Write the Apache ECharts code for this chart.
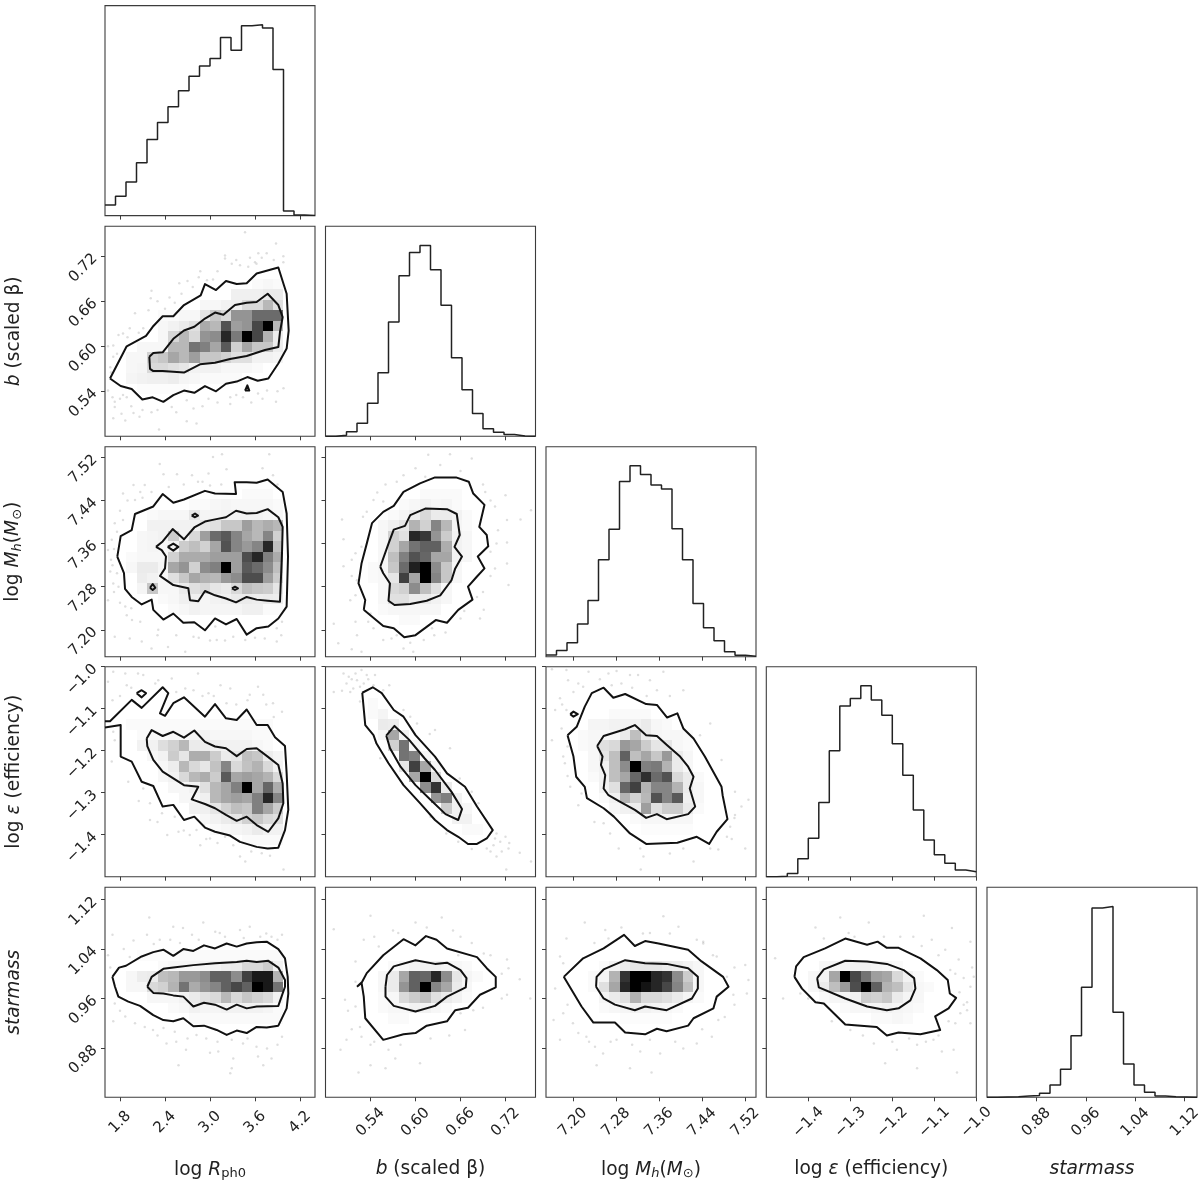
<!DOCTYPE html>
<html><head><meta charset="utf-8"><style>html,body{margin:0;padding:0;background:#fff}#c{width:1200px;height:1186px}</style>
<script src="https://cdn.jsdelivr.net/npm/echarts@6/dist/echarts.min.js"></script></head><body><div id="c"></div>
<script>
// parameter ranges and ticks
const rangeR=[1.6,4.4], rangeB=[0.48,0.76], rangeM=[7.15,7.54], rangeE=[-1.5,-1.0], rangeS=[0.8,1.14];
const ticksR=[1.8,2.4,3.0,3.6,4.2], ticksB=[0.54,0.60,0.66,0.72], ticksM=[7.20,7.28,7.36,7.44,7.52], ticksE=[-1.4,-1.3,-1.2,-1.1,-1.0], ticksS=[0.88,0.96,1.04,1.12];
const decimals=[1,2,2,1,2];
// 1-D histograms (percent of the tallest bin)
const histR=[5.6,10.1,17.6,27.7,39.9,48.8,57,65.4,73,78.3,82.3,93.3,86.6,99.4,100,98.3,76.5,2.4,0.3,0];
const histB=[0,0.5,2.4,6.8,17.3,33.3,59.9,84.1,96.3,100,87.3,68.6,41.2,24.4,11.9,4,2.1,1,0.2,0];
const histM=[0.9,3.3,7.3,17.1,29.5,50.8,66.7,91.8,100,95.5,89.9,87.8,67,50.8,27.9,15.2,8.4,2.6,0.7,0.3];
const histE=[0,0.2,1.7,9.4,20.1,38.9,66,89.4,93.4,100,92.5,84.6,69.6,53.2,34.9,19.2,11.5,7,3.5,2.6];
const histS=[0,0.2,0.3,0.7,0.9,2.1,6.5,14.7,32.3,57.6,99.1,100,44.5,17.5,6.5,2.6,0.7,0.3,0.2,0];
// 2-D densities: each row is [binRowFromTop, firstBinCol, density...]
const cellsBR=[[5,14,2,3,2],[6,12,6,6,6,8,8],[7,9,3,3,5,6,15,15,28,12],[8,5,2,2,3,3,10,22,15,42,42,58,58,58],[9,5,3,5,8,12,33,28,68,38,42,72,100,28],[10,5,3,16,28,15,42,45,85,52,100,72,30,7],[11,3,3,3,3,28,28,55,50,35,65,18,35,22,22,7],[12,2,3,3,18,22,35,28,38,22,22,18,12,12,5,5,4],[13,2,3,4,15,15,12,10,5,5,5,3,3,3,2],[14,2,4,5,6,6,7,4,3,2,2,2,2],[15,3,1,1,1,1,1]];
const cellsMR=[[4,13,2,2,2],[5,8,2,2,3,4,3,3,3,3,2],[6,4,2,3,3,3,10,4,4,5,5,5,5,4,3],[7,4,5,5,5,5,5,10,12,22,22,38,28,32,28],[8,3,3,4,5,20,5,15,38,58,65,48,35,28,48,18],[9,3,3,4,3,5,20,25,18,35,68,48,40,48,85,25],[10,2,2,3,3,3,18,33,33,33,38,38,38,70,85,50,33],[11,2,3,8,8,4,35,42,18,45,50,100,38,65,58,45,25],[12,3,7,5,3,12,22,35,30,28,40,45,70,70,38,20],[13,3,4,22,3,3,8,12,15,10,8,15,25,22,20,10],[14,5,2,3,6,6,4,5,6,8,8,7,8,7],[15,6,2,3,5,4,4,4,4,6,6,2,2]];
const cellsER=[[5,2,2,2,2,2,2,2,2,2,2,2,2,2,2,2],[6,3,2,2,2,3,3,4,5,3,3,3,3,2,2],[7,3,5,5,13,18,28,8,7,6,5,5,5,3,2],[8,4,3,5,20,10,32,32,20,8,10,25,22,7,4],[9,5,3,7,28,15,10,24,48,15,24,30,15,5],[10,5,3,5,15,28,32,20,65,35,38,35,30,15],[11,6,3,3,5,12,28,35,50,100,35,60,32],[12,7,3,3,6,28,35,38,35,50,85,48],[13,8,5,6,10,18,25,22,50,35,20],[14,9,3,5,8,10,18,22,15,12],[15,10,2,3,4,5,8,5,5],[16,13,2,2,2,2]];
const cellsSR=[[6,3,1,1,1,1,2,2,2,2,2,2,2,2,2,2],[7,5,2,3,3,3,4,5,7,8,15,15,20,5],[8,2,3,7,8,25,28,40,40,45,62,62,45,75,90,90,30],[9,2,3,3,15,18,30,55,33,42,48,62,72,62,100,90,55],[10,4,3,3,3,5,8,12,15,28,15,22,18,15,5],[11,6,2,3,5,4,4,5,5,5,5,4,2],[12,8,2,2,2,2,2,2,2,2,2]];
const cellsMB=[[4,9,2,2,2,2],[5,7,2,3,5,3,4,2],[6,6,2,4,7,15,8,8,5,2],[7,5,3,6,10,30,18,48,28,4,2],[8,5,3,18,12,85,78,42,20,5,3],[9,5,3,18,35,55,62,62,32,5,3],[10,5,3,25,50,68,60,35,35,5,3],[11,4,2,3,22,58,88,100,45,22,3],[12,4,2,3,10,75,35,100,48,22,3],[13,5,3,15,18,45,25,12,3],[14,5,3,12,12,8,8,5,3],[15,5,2,3,3,3,3,3],[16,7,2,2]];
const cellsEB=[[3,4,2],[4,4,2,4],[5,5,8,7],[6,5,3,35,6],[7,6,18,55,4],[8,7,55,50,3],[9,7,10,75,35,3],[10,8,35,100,15],[11,9,45,80,8],[12,10,42,50,5],[13,11,20,5,3],[14,12,5,5],[15,13,2,2]];
const cellsEM=[[4,6,2,2,2,2],[5,4,4,4,5,5,5,8,3,2],[6,3,2,3,3,3,8,25,8,4,3,3,2],[7,3,2,3,12,15,40,35,20,10,10,3,2],[8,4,3,10,25,62,25,35,22,40,8,3],[9,4,3,5,25,45,100,50,52,30,8,3],[10,4,2,5,25,35,60,82,58,68,15,8,2],[11,5,5,12,60,75,30,48,48,30,8,3],[12,5,2,5,30,18,28,68,48,65,6,3],[13,6,3,5,7,38,12,20,20,8,2],[14,8,2,3,3,3,3,3],[15,9,1,1,1,1,1]];
const cellsSB=[[7,6,2,3,5,5,5,4,3,2],[8,5,3,8,35,62,60,85,45,10,4,2],[9,5,3,8,42,62,100,48,35,8,3],[10,5,2,3,15,20,25,12,8,5,2],[11,5,2,3,3,5,5,3,2],[12,6,2,2]];
const cellsSM=[[7,5,2,5,8,10,10,10,8,7,5,3],[8,4,2,4,30,80,100,100,85,80,45,20,3],[9,4,2,12,35,85,100,92,85,72,48,25,3],[10,5,4,8,12,30,15,15,12,8,4,2],[11,5,2,3,4,5,5,4,3,2],[12,7,1,1,1,1,1]];
const cellsSE=[[7,5,3,4,5,5,5,4,3,2],[8,4,3,5,35,100,72,55,38,35,15,5,2],[9,4,3,8,25,40,70,100,62,30,25,10,3,2],[10,5,2,3,4,6,20,18,22,8,4,3],[11,7,2,3,3,4,5,4,3,2],[12,10,2,2,3,2]];
// contours
const outerBR=[[1.667,.557],[1.809,.547],[1.956,.543],[2.098,.529],[2.236,.532],[2.378,.526],[2.511,.535],[2.653,.541],[2.791,.538],[2.933,.547],[3.08,.54],[3.213,.55],[3.356,.553],[3.498,.559],[3.636,.554],[3.778,.557],[3.911,.577],[4.022,.597],[4.049,.621],[4.022,.67],[3.911,.705],[3.622,.697],[3.489,.684],[3.356,.683],[3.213,.687],[3.08,.675],[2.933,.683],[2.876,.668],[2.653,.655],[2.511,.64],[2.369,.64],[2.236,.626],[2.147,.614],[1.889,.6],[1.667,.557]];
const innerBR=[[2.191,.586],[2.2,.57],[2.244,.567],[2.369,.567],[2.653,.565],[2.867,.576],[3.067,.578],[3.267,.583],[3.489,.587],[3.733,.595],[3.911,.599],[3.933,.619],[3.969,.639],[3.911,.655],[3.769,.67],[3.622,.659],[3.489,.658],[3.333,.655],[3.178,.642],[3.067,.645],[2.933,.637],[2.791,.626],[2.653,.621],[2.511,.61],[2.369,.592],[2.244,.591],[2.191,.586]];
const isleBR1=[[3.467,.541],[3.498,.548],[3.524,.541],[3.467,.541]];
const outerMR=[[1.764,7.336],[1.809,7.374],[1.956,7.385],[2.0,7.415],[2.244,7.429],[2.369,7.452],[2.511,7.436],[2.653,7.442],[2.933,7.458],[3.067,7.453],[3.347,7.452],[3.329,7.474],[3.489,7.474],[3.622,7.473],[3.769,7.479],[3.969,7.456],[4.022,7.416],[4.04,7.336],[4.022,7.243],[3.911,7.221],[3.778,7.206],[3.622,7.203],[3.489,7.191],[3.356,7.22],[3.213,7.21],[3.067,7.221],[2.933,7.199],[2.791,7.214],[2.644,7.213],[2.511,7.23],[2.378,7.219],[2.244,7.237],[2.222,7.256],[2.089,7.247],[1.956,7.261],[1.867,7.276],[1.853,7.305],[1.764,7.336]];
const innerMR=[[2.28,7.354],[2.369,7.364],[2.502,7.387],[2.653,7.368],[2.791,7.39],[2.933,7.401],[3.067,7.405],[3.213,7.409],[3.347,7.421],[3.489,7.416],[3.622,7.417],[3.769,7.424],[3.911,7.409],[3.969,7.391],[3.96,7.342],[3.933,7.252],[3.769,7.254],[3.622,7.256],[3.489,7.261],[3.347,7.251],[3.213,7.258],[3.067,7.264],[2.933,7.272],[2.844,7.253],[2.733,7.255],[2.711,7.277],[2.511,7.283],[2.333,7.3],[2.4,7.314],[2.413,7.336],[2.356,7.348],[2.28,7.354]];
const isleMR1=[[2.436,7.354],[2.511,7.36],[2.578,7.354],[2.511,7.347],[2.436,7.354]];
const isleMR2=[[2.2,7.278],[2.236,7.285],[2.271,7.278],[2.236,7.274],[2.2,7.278]];
const isleMR3=[[2.756,7.412],[2.8,7.416],[2.84,7.412],[2.8,7.409],[2.756,7.412]];
const isleMR4=[[3.293,7.277],[3.333,7.28],[3.373,7.277],[3.333,7.274],[3.293,7.277]];
const outerER=[[1.6,-1.13],[1.667,-1.13],[1.956,-1.079],[2.089,-1.098],[2.369,-1.049],[2.444,-1.063],[2.333,-1.111],[2.4,-1.117],[2.511,-1.087],[2.653,-1.073],[2.933,-1.119],[3.067,-1.089],[3.213,-1.123],[3.356,-1.127],[3.489,-1.102],[3.622,-1.139],[3.769,-1.139],[3.867,-1.168],[4.0,-1.189],[4.022,-1.254],[4.044,-1.341],[4.0,-1.389],[3.911,-1.431],[3.769,-1.433],[3.622,-1.429],[3.4,-1.417],[3.267,-1.402],[3.067,-1.393],[2.933,-1.383],[2.791,-1.357],[2.653,-1.365],[2.511,-1.329],[2.369,-1.333],[2.244,-1.284],[2.089,-1.274],[1.956,-1.226],[1.809,-1.214],[1.809,-1.139],[1.6,-1.145]];
const innerER=[[2.156,-1.171],[2.222,-1.151],[2.369,-1.165],[2.511,-1.155],[2.653,-1.169],[2.791,-1.152],[2.933,-1.179],[3.067,-1.19],[3.213,-1.194],[3.356,-1.213],[3.489,-1.196],[3.622,-1.194],[3.769,-1.214],[3.911,-1.234],[3.969,-1.278],[3.978,-1.325],[3.911,-1.361],[3.778,-1.393],[3.622,-1.377],[3.489,-1.357],[3.356,-1.367],[3.213,-1.353],[3.067,-1.337],[2.933,-1.327],[2.756,-1.316],[2.844,-1.286],[2.653,-1.282],[2.511,-1.266],[2.369,-1.25],[2.244,-1.222],[2.164,-1.189],[2.156,-1.171]];
const isleER1=[[2.022,-1.063],[2.089,-1.056],[2.147,-1.063],[2.089,-1.073],[2.022,-1.063]];
const outerSR=[[1.698,.995],[1.787,1.01],[1.88,1.013],[2.089,1.028],[2.244,1.035],[2.378,1.039],[2.511,1.029],[2.644,1.04],[2.778,1.037],[2.92,1.046],[3.067,1.041],[3.222,1.049],[3.356,1.044],[3.489,1.049],[3.622,1.051],[3.756,1.052],[3.911,1.04],[4.0,1.025],[4.036,.995],[4.044,.968],[4.022,.944],[3.911,.916],[3.756,.913],[3.622,.914],[3.489,.904],[3.356,.908],[3.222,.901],[3.089,.909],[2.92,.916],[2.778,.915],[2.644,.928],[2.511,.923],[2.378,.925],[2.244,.933],[2.067,.948],[1.911,.955],[1.778,.963],[1.733,.979],[1.698,.995]];
const innerSR=[[2.164,.979],[2.222,.995],[2.378,1.008],[2.511,1.01],[2.778,1.014],[3.067,1.017],[3.356,1.019],[3.489,1.021],[3.622,1.019],[3.778,1.021],[3.911,1.01],[4.0,.99],[4.0,.979],[3.911,.948],[3.622,.947],[3.489,.944],[3.356,.95],[3.222,.942],[3.067,.95],[2.92,.953],[2.778,.947],[2.644,.963],[2.511,.965],[2.378,.968],[2.244,.969],[2.164,.979]];
const outerMB=[[.531,7.237],[.533,7.255],[.524,7.286],[.528,7.323],[.535,7.36],[.542,7.398],[.557,7.419],[.571,7.43],[.584,7.456],[.606,7.472],[.626,7.483],[.654,7.483],[.671,7.475],[.677,7.453],[.692,7.432],[.685,7.391],[.695,7.376],[.697,7.355],[.683,7.336],[.692,7.314],[.682,7.299],[.67,7.28],[.676,7.256],[.657,7.237],[.642,7.213],[.627,7.218],[.6,7.19],[.585,7.186],[.571,7.203],[.557,7.207],[.531,7.237]];
const innerMB=[[.553,7.317],[.564,7.36],[.571,7.386],[.586,7.393],[.593,7.413],[.613,7.425],[.642,7.424],[.655,7.415],[.659,7.376],[.652,7.354],[.662,7.336],[.653,7.314],[.648,7.292],[.633,7.264],[.615,7.254],[.593,7.248],[.572,7.246],[.564,7.254],[.566,7.286],[.557,7.305],[.553,7.317]];
const outerEB=[[.529,-1.062],[.543,-1.049],[.555,-1.063],[.571,-1.103],[.584,-1.119],[.6,-1.163],[.626,-1.214],[.642,-1.254],[.666,-1.286],[.682,-1.333],[.703,-1.389],[.695,-1.409],[.682,-1.422],[.67,-1.422],[.657,-1.405],[.642,-1.389],[.626,-1.365],[.606,-1.325],[.584,-1.282],[.564,-1.23],[.548,-1.183],[.544,-1.163],[.533,-1.139],[.529,-1.062]];
const innerEB=[[.561,-1.164],[.572,-1.141],[.591,-1.173],[.612,-1.218],[.626,-1.246],[.648,-1.298],[.662,-1.339],[.657,-1.365],[.64,-1.351],[.62,-1.317],[.6,-1.282],[.58,-1.238],[.566,-1.194],[.561,-1.164]];
const outerEM=[[7.19,-1.163],[7.207,-1.143],[7.222,-1.095],[7.235,-1.063],[7.257,-1.05],[7.275,-1.074],[7.297,-1.065],[7.336,-1.089],[7.356,-1.091],[7.375,-1.121],[7.394,-1.111],[7.405,-1.147],[7.424,-1.171],[7.445,-1.214],[7.476,-1.286],[7.478,-1.306],[7.487,-1.363],[7.467,-1.393],[7.453,-1.422],[7.43,-1.405],[7.394,-1.419],[7.336,-1.422],[7.306,-1.397],[7.276,-1.357],[7.257,-1.337],[7.226,-1.313],[7.222,-1.286],[7.206,-1.262],[7.201,-1.214],[7.19,-1.163]];
const innerEM=[[7.245,-1.189],[7.257,-1.165],[7.297,-1.149],[7.315,-1.139],[7.336,-1.163],[7.356,-1.165],[7.375,-1.187],[7.399,-1.214],[7.414,-1.238],[7.424,-1.262],[7.417,-1.29],[7.427,-1.333],[7.414,-1.351],[7.374,-1.363],[7.356,-1.351],[7.336,-1.36],[7.315,-1.341],[7.287,-1.321],[7.266,-1.306],[7.257,-1.29],[7.26,-1.258],[7.252,-1.234],[7.255,-1.214],[7.245,-1.189]];
const isleEM1=[[7.195,-1.113],[7.201,-1.107],[7.209,-1.113],[7.201,-1.119],[7.195,-1.113]];
const outerSB=[[.522,.979],[.528,.986],[.531,.963],[.533,.928],[.557,.893],[.584,.902],[.6,.904],[.615,.916],[.642,.923],[.653,.941],[.67,.945],[.686,.966],[.707,.978],[.707,.995],[.695,1.009],[.682,1.027],[.642,1.041],[.628,1.055],[.614,1.061],[.6,1.046],[.584,1.056],[.557,1.03],[.535,1.001],[.528,.985],[.522,.979]];
const innerSB=[[.56,.979],[.562,.998],[.571,1.012],[.6,1.022],[.626,1.016],[.642,1.018],[.66,1.006],[.668,.993],[.667,.978],[.642,.963],[.626,.948],[.6,.939],[.571,.948],[.56,.963],[.56,.979]];
const outerSM=[[7.183,.995],[7.219,1.025],[7.257,1.041],[7.295,1.063],[7.315,1.045],[7.334,1.053],[7.359,1.049],[7.414,1.039],[7.439,1.02],[7.479,.995],[7.489,.979],[7.467,.963],[7.461,.944],[7.424,.928],[7.414,.916],[7.374,.907],[7.356,.911],[7.334,.902],[7.297,.905],[7.278,.921],[7.238,.921],[7.216,.947],[7.183,.995]];
const innerSM=[[7.243,.979],[7.244,.995],[7.257,1.007],[7.297,1.022],[7.334,1.017],[7.374,1.016],[7.414,1.009],[7.432,.995],[7.432,.976],[7.421,.96],[7.374,.941],[7.334,.947],[7.315,.941],[7.278,.95],[7.257,.96],[7.243,.979]];
const outerSE=[[-1.433,.995],[-1.429,1.012],[-1.411,1.027],[-1.36,1.041],[-1.312,1.057],[-1.26,1.047],[-1.235,1.052],[-1.213,1.042],[-1.185,1.042],[-1.133,1.025],[-1.094,1.006],[-1.068,.99],[-1.063,.968],[-1.048,.961],[-1.066,.944],[-1.098,.931],[-1.086,.909],[-1.133,.902],[-1.185,.905],[-1.213,.9],[-1.237,.914],[-1.312,.918],[-1.363,.952],[-1.383,.954],[-1.415,.976],[-1.433,.995]];
const innerSE=[[-1.379,.993],[-1.363,1.007],[-1.312,1.021],[-1.26,1.02],[-1.213,1.016],[-1.173,1.006],[-1.148,.993],[-1.145,.976],[-1.157,.957],[-1.185,.944],[-1.213,.941],[-1.26,.947],[-1.312,.96],[-1.375,.978],[-1.379,.993]];
// individual samples outside the contours
const dotsBR=[[3.467,.752],[3.88,.737],[3.2,.721],[3.2,.717],[3.533,.718],[3.644,.724],[3.756,.724],[3.69,.718],[3.978,.72],[3.978,.712],[3.29,.71],[3.4,.708],[3.51,.706],[3.62,.71],[2.87,.7],[2.96,.688],[3.04,.689],[2.7,.687],[2.59,.684],[2.77,.679],[2.22,.674],[2.21,.664],[2.4,.65],[2.53,.658],[2.18,.648],[2,.644],[1.93,.624],[2.11,.624],[1.78,.615],[1.84,.617],[1.71,.601],[1.64,.6],[1.71,.586],[1.67,.572],[1.64,.541],[1.84,.535],[1.89,.532],[1.73,.526],[1.73,.519],[1.82,.51],[1.98,.511],[1.71,.504],[1.87,.501],[2.06,.506],[2.22,.512],[2.32,.489],[2.69,.5],[2.82,.497],[2.49,.519],[2.69,.528],[2.78,.517],[2.98,.53],[3.27,.532],[3.27,.523],[3.44,.532],[3.64,.537],[3.76,.541],[3.98,.544],[3.88,.526],[2.3,.66],[2.46,.665],[2.62,.67],[2.85,.692],[3.1,.7],[3.35,.715],[3.6,.712],[3.85,.715],[1.9,.612],[2.05,.618],[1.76,.59],[1.68,.565],[1.7,.532],[1.8,.53],[1.95,.52],[2.1,.515],[2.3,.515],[2.55,.512],[2.9,.52],[3.1,.525],[3.35,.535],[3.55,.525],[3.7,.53],[3.9,.54]];
const dotsMR=[[3.16,7.526],[3.04,7.521],[3.79,7.526],[2.33,7.508],[2.38,7.489],[2.56,7.489],[2.76,7.487],[2.98,7.49],[3.22,7.498],[2.84,7.475],[3.84,7.487],[1.98,7.469],[2.13,7.469],[2.07,7.456],[1.84,7.453],[2,7.441],[2.22,7.456],[1.8,7.421],[1.84,7.404],[1.73,7.398],[1.76,7.382],[1.69,7.367],[1.64,7.348],[1.67,7.308],[1.76,7.305],[1.71,7.286],[1.78,7.28],[1.64,7.255],[1.87,7.243],[1.89,7.227],[1.96,7.218],[2.07,7.215],[1.73,7.187],[1.93,7.184],[2.09,7.178],[2.22,7.165],[2.31,7.2],[2.44,7.168],[2.67,7.159],[2.78,7.187],[3.07,7.206],[3.09,7.181],[3.31,7.187],[3.47,7.181],[3.73,7.184],[3.89,7.203],[3.89,7.178],[3.96,7.215],[2.65,7.47],[2.9,7.475],[3.0,7.468],[2.45,7.465],[3.15,7.47],[3.7,7.5],[3.9,7.47],[1.9,7.44],[2.1,7.445],[1.68,7.33],[1.72,7.35],[1.7,7.32],[1.72,7.27],[1.8,7.25],[1.95,7.24],[2.3,7.19],[2.55,7.19],[2.85,7.185],[3.0,7.18],[3.2,7.18],[3.6,7.185],[3.95,7.19]];
const dotsER=[[1.71,-1.012],[1.87,-1.016],[2.04,-1.016],[1.64,-1.036],[2.11,-1.02],[2.31,-1.032],[2.49,-1.028],[2.84,-1.016],[1.89,-1.044],[2.27,-1.04],[2.67,-1.052],[2.78,-1.056],[2.98,-1.063],[3.14,-1.044],[3.27,-1.052],[3.53,-1.067],[3.64,-1.048],[3.71,-1.067],[3.84,-1.087],[3.96,-1.107],[3.22,-1.087],[1.71,-1.155],[1.73,-1.175],[1.69,-1.226],[1.91,-1.274],[2.11,-1.29],[2.2,-1.325],[2.36,-1.349],[2.43,-1.401],[2.53,-1.357],[2.58,-1.393],[2.73,-1.401],[2.82,-1.389],[2.87,-1.425],[3,-1.409],[3.2,-1.405],[3.31,-1.425],[3.4,-1.452],[3.47,-1.464],[3.69,-1.444],[3.98,-1.483],[2.93,-1.373],[2.2,-1.365],[2.55,-1.06],[2.9,-1.07],[3.05,-1.07],[3.35,-1.09],[3.5,-1.08],[3.75,-1.09],[3.85,-1.12],[1.8,-1.07],[1.95,-1.05],[1.7,-1.08],[2.05,-1.32],[2.3,-1.37],[2.65,-1.39],[2.95,-1.41],[3.1,-1.42],[3.55,-1.44],[3.8,-1.45]];
const dotsSR=[[2.19,1.091],[2.91,1.083],[2.51,1.076],[2.64,1.074],[3.07,1.068],[3.4,1.071],[3.53,1.076],[1.7,1.063],[2.16,1.063],[1.98,1.054],[2.33,1.055],[2.47,1.055],[2.76,1.063],[3.13,1.066],[3.67,1.06],[3.82,1.06],[3.96,1.063],[1.64,1.03],[1.93,1.027],[1.73,.952],[1.87,.931],[1.71,.923],[2,.92],[2.13,.914],[2.24,.909],[2.38,.912],[2.42,.887],[2.53,.906],[2.68,.877],[2.82,.901],[3,.872],[3.11,.874],[2.58,.852],[3.29,.893],[3.44,.887],[3.62,.882],[3.76,.879],[3.82,.863],[3.64,.866],[3.71,.852],[3.31,.863],[3.29,.847],[3.27,.839],[3.96,.898],[2.25,1.048],[2.6,1.05],[2.85,1.055],[3.2,1.06],[3.45,1.058],[3.75,1.065],[3.9,1.055],[1.85,1.04],[1.67,1.01],[1.8,.94],[2.3,.9],[2.7,.895],[2.95,.895],[3.1,.89],[3.5,.895],[3.9,.885],[2.55,.89]];
const dotsMB=[[.617,7.525],[.646,7.526],[.675,7.518],[.575,7.475],[.584,7.487],[.613,7.484],[.633,7.506],[.549,7.455],[.544,7.441],[.557,7.438],[.535,7.419],[.502,7.405],[.504,7.368],[.52,7.342],[.528,7.354],[.504,7.318],[.522,7.292],[.52,7.264],[.513,7.255],[.491,7.211],[.52,7.215],[.537,7.215],[.522,7.19],[.544,7.203],[.497,7.175],[.515,7.164],[.528,7.159],[.557,7.181],[.568,7.184],[.593,7.176],[.611,7.181],[.584,7.165],[.597,7.159],[.622,7.203],[.66,7.221],[.686,7.221],[.691,7.237],[.682,7.261],[.706,7.314],[.722,7.323],[.724,7.283],[.74,7.405],[.754,7.422],[.722,7.404],[.72,7.45],[.693,7.456],[.706,7.429],[.722,7.362],[.708,7.36],[.66,7.495],[.69,7.47],[.7,7.44],[.71,7.385],[.7,7.345],[.7,7.3],[.69,7.27],[.665,7.235],[.64,7.195],[.625,7.19],[.575,7.19],[.54,7.23],[.515,7.3],[.515,7.33],[.53,7.41],[.56,7.47],[.6,7.5]];
const dotsEB=[[.504,-1.016],[.52,-1.016],[.528,-1.008],[.535,-1.02],[.546,-1.02],[.511,-1.024],[.522,-1.032],[.531,-1.04],[.526,-1.048],[.517,-1.052],[.491,-1.06],[.502,-1.057],[.513,-1.06],[.544,-1.044],[.565,-1.044],[.557,-1.056],[.526,-1.083],[.584,-1.103],[.593,-1.119],[.602,-1.135],[.626,-1.151],[.619,-1.16],[.646,-1.194],[.659,-1.266],[.675,-1.298],[.684,-1.325],[.553,-1.218],[.62,-1.357],[.641,-1.397],[.657,-1.417],[.675,-1.434],[.695,-1.433],[.704,-1.425],[.708,-1.397],[.72,-1.405],[.724,-1.433],[.708,-1.452],[.739,-1.443],[.754,-1.464],[.721,-1.483],[.713,-1.417],[.706,-1.409],[.515,-1.03],[.537,-1.03],[.508,-1.04],[.725,-1.42],[.715,-1.44],[.7,-1.44]];
const dotsEM=[[7.161,-1.006],[7.188,-1.008],[7.229,-1.012],[7.266,-1.016],[7.281,-1.01],[7.306,-1.02],[7.321,-1.02],[7.368,-1.012],[7.191,-1.032],[7.219,-1.048],[7.272,-1.044],[7.343,-1.032],[7.356,-1.056],[7.337,-1.07],[7.405,-1.056],[7.176,-1.075],[7.201,-1.06],[7.167,-1.103],[7.188,-1.103],[7.179,-1.147],[7.161,-1.175],[7.182,-1.214],[7.185,-1.23],[7.195,-1.286],[7.216,-1.302],[7.257,-1.373],[7.269,-1.397],[7.285,-1.433],[7.325,-1.433],[7.331,-1.452],[7.326,-1.483],[7.405,-1.433],[7.424,-1.464],[7.455,-1.433],[7.486,-1.405],[7.492,-1.381],[7.52,-1.433],[7.501,-1.353],[7.526,-1.317],[7.513,-1.333],[7.501,-1.298],[7.476,-1.222],[7.455,-1.135],[7.436,-1.163],[7.29,-1.04],[7.25,-1.03],[7.31,-1.05],[7.38,-1.07],[7.21,-1.04],[7.18,-1.09],[7.19,-1.19],[7.19,-1.26],[7.21,-1.33],[7.24,-1.37],[7.38,-1.445],[7.47,-1.435],[7.495,-1.41],[7.5,-1.36]];
const dotsSB=[[.54,1.094],[.491,1.072],[.6,1.083],[.635,1.091],[.531,1.055],[.551,1.044],[.577,1.066],[.66,1.06],[.657,1.03],[.691,1.033],[.722,1.023],[.724,1.009],[.739,.991],[.753,.96],[.722,.966],[.52,.987],[.506,.958],[.52,.947],[.526,.914],[.528,.898],[.5,.877],[.508,.893],[.54,.885],[.564,.877],[.573,.863],[.54,.852],[.524,.84],[.56,.847],[.606,.855],[.666,.909],[.66,.936],[.677,.941],[.52,1.02],[.545,1.06],[.57,1.07],[.615,1.075],[.65,1.07],[.675,1.05],[.7,1.03],[.715,1.0],[.715,.96],[.69,.945],[.51,.94],[.515,.91],[.545,.89],[.58,.885],[.62,.895],[.645,.9]];
const dotsSM=[[7.188,1.057],[7.222,1.083],[7.26,1.071],[7.266,1.057],[7.343,1.066],[7.368,1.093],[7.396,1.076],[7.442,1.049],[7.467,1.028],[7.486,.995],[7.52,1.014],[7.526,.99],[7.523,.968],[7.498,.966],[7.167,.976],[7.164,.925],[7.182,.936],[7.176,.893],[7.21,.904],[7.225,.898],[7.241,.882],[7.256,.871],[7.244,.852],[7.281,.893],[7.306,.847],[7.325,.874],[7.343,.893],[7.362,.871],[7.346,.84],[7.405,.879],[7.43,.887],[7.458,.898],[7.482,.93],[7.442,1.052],[7.182,1.017],[7.176,1.028],[7.24,1.05],[7.29,1.075],[7.33,1.065],[7.38,1.065],[7.43,1.055],[7.46,1.03],[7.5,1.01],[7.5,.95],[7.47,.925],[7.19,.95],[7.2,.92],[7.23,.89],[7.27,.89],[7.31,.885],[7.39,.89],[7.44,.91]];
const dotsSE=[[-1.479,1.025],[-1.46,.96],[-1.419,.968],[-1.383,1.075],[-1.324,1.091],[-1.256,1.083],[-1.304,1.066],[-1.363,1.057],[-1.181,1.06],[-1.125,1.094],[-1.058,1.074],[-1.014,1.052],[-1.106,1.055],[-1.074,1.039],[-1.042,1.023],[-1.062,1.006],[-1.03,.993],[-1.006,.995],[-1.014,.979],[-1.022,.954],[-1.038,.936],[-1.066,.923],[-1.014,.92],[-1.054,.877],[-1.046,.84],[-1.141,.847],[-1.217,.855],[-1.189,.877],[-1.141,.885],[-1.102,.893],[-1.244,.887],[-1.344,.923],[-1.3,.909],[-1.082,.874],[-1.022,.941],[-1.15,1.06],[-1.13,1.045],[-1.09,1.03],[-1.05,1.0],[-1.01,1.01],[-1.04,.97],[-1.03,.95],[-1.05,.92],[-1.09,.9],[-1.12,.89],[-1.16,.895],[-1.2,.89],[-1.27,.9],[-1.4,.96],[-1.29,1.06],[-1.22,1.06]];
// labels
const names=['log {i|R}{s|ph0}','{i|b} (scaled β)','log {i|M}{si|h}({i|M}{s|⊙})','log {i|ε} (efficiency)','{i|starmass}'];

const ranges=[rangeR,rangeB,rangeM,rangeE,rangeS], ticks=[ticksR,ticksB,ticksM,ticksE,ticksS], hists=[histR,histB,histM,histE,histS];
const pairs=[
 {c:0,r:1,cells:cellsBR,lines:[outerBR,innerBR,isleBR1],dots:dotsBR},
 {c:0,r:2,cells:cellsMR,lines:[outerMR,innerMR,isleMR1,isleMR2,isleMR3,isleMR4],dots:dotsMR},
 {c:0,r:3,cells:cellsER,lines:[outerER,innerER,isleER1],dots:dotsER},
 {c:0,r:4,cells:cellsSR,lines:[outerSR,innerSR],dots:dotsSR},
 {c:1,r:2,cells:cellsMB,lines:[outerMB,innerMB],dots:dotsMB},
 {c:1,r:3,cells:cellsEB,lines:[outerEB,innerEB],dots:dotsEB},
 {c:1,r:4,cells:cellsSB,lines:[outerSB,innerSB],dots:dotsSB},
 {c:2,r:3,cells:cellsEM,lines:[outerEM,innerEM,isleEM1],dots:dotsEM},
 {c:2,r:4,cells:cellsSM,lines:[outerSM,innerSM],dots:dotsSM},
 {c:3,r:4,cells:cellsSE,lines:[outerSE,innerSE],dots:dotsSE}
];
const FONT='DejaVu Sans', INK='#3c3c3c', NAME_SIZE=18.6, TICK_SIZE=15;
const colLeft=[105,325.5,546,766.3,987], rowTop=[5.6,226.3,446.7,666.7,887.3], SIZE=210, BINS=20;
const rich={i:{fontStyle:'italic',fontFamily:FONT,fontSize:NAME_SIZE,color:'#222'},
  s:{fontSize:13,fontFamily:FONT,color:'#222',padding:[8,0,0,0]},
  si:{fontSize:13,fontFamily:FONT,fontStyle:'italic',color:'#222',padding:[8,0,0,0]}};
const fmt=d=>v=>v.toFixed(d).replace('-','\u2212');
const grid=[],xAxis=[],yAxis=[],series=[];
function addPanel(c,r,isHist){
  const gi=grid.length;
  grid.push({left:colLeft[c],top:rowTop[r],width:SIZE,height:SIZE,show:true,borderColor:INK,borderWidth:1.1,backgroundColor:'#fff',containLabel:false,outerBoundsMode:'none'});
  xAxis.push({gridIndex:gi,type:'value',min:ranges[c][0],max:ranges[c][1],splitLine:{show:false},axisLine:{show:false},
    axisTick:{show:true,length:4,inside:false,lineStyle:{color:INK,width:1},customValues:ticks[c]},
    axisLabel:r===4?{show:true,rotate:45,align:'center',verticalAlign:'middle',margin:25,fontFamily:FONT,fontSize:TICK_SIZE,color:'#222',customValues:ticks[c],formatter:fmt(decimals[c]),showMinLabel:true,showMaxLabel:true,hideOverlap:false}:{show:false},
    name:r===4?names[c]:'',nameLocation:'middle',nameGap:62,nameMoveOverlap:false,nameTextStyle:{fontFamily:FONT,fontSize:NAME_SIZE,color:'#222',rich}});
  const yr=isHist?[0,110]:ranges[r];
  yAxis.push({gridIndex:gi,type:'value',min:yr[0],max:yr[1],splitLine:{show:false},axisLine:{show:false},
    axisTick:isHist?{show:false}:{show:true,length:4,lineStyle:{color:INK,width:1},customValues:ticks[r]},
    axisLabel:(!isHist&&c===0)?{show:true,rotate:45,margin:10,fontFamily:FONT,fontSize:TICK_SIZE,color:'#222',customValues:ticks[r],formatter:fmt(decimals[r]),showMinLabel:true,showMaxLabel:true,hideOverlap:false}:{show:false},
    name:(!isHist&&c===0)?names[r]:'',nameLocation:'middle',nameGap:81,nameMoveOverlap:false,nameRotate:90,nameTextStyle:{fontFamily:FONT,fontSize:NAME_SIZE,color:'#222',rich}});
  return gi;
}
function edge(range,k){return range[0]+(range[1]-range[0])*k/BINS;}
hists.forEach((h,i)=>{
  const gi=addPanel(i,i,true);
  const pts=h.map((v,k)=>[edge(ranges[i],k),v]);
  pts.push([edge(ranges[i],BINS),h[BINS-1]]);
  series.push({type:'line',xAxisIndex:gi,yAxisIndex:gi,data:pts,step:'end',symbol:'none',silent:true,lineStyle:{color:'#222',width:1.5},z:5});
});
pairs.forEach(p=>{
  const gi=addPanel(p.c,p.r,false), xr=ranges[p.c], yr=ranges[p.r], cells=[];
  p.cells.forEach(row=>{
    const rr=row[0], c0=row[1];
    row.slice(2).forEach((d,k)=>{
      cells.push([edge(xr,c0+k),yr[1]-(yr[1]-yr[0])*(rr+1)/BINS,edge(xr,c0+k+1),yr[1]-(yr[1]-yr[0])*rr/BINS,d]);
    });
  });
  series.push({type:'scatter',xAxisIndex:gi,yAxisIndex:gi,data:p.dots,symbolSize:2.5,silent:true,itemStyle:{color:'#000',opacity:0.13},z:2});
  series.push({type:'custom',xAxisIndex:gi,yAxisIndex:gi,data:cells,silent:true,z:3,encode:{x:[0,2],y:[1,3]},clip:true,
    renderItem:(params,api)=>{
      const a=api.coord([api.value(0),api.value(1)]), b=api.coord([api.value(2),api.value(3)]);
      const x0=Math.round(a[0]),x1=Math.round(b[0]),y0=Math.round(b[1]),y1=Math.round(a[1]);
      const g=Math.round(255*(1-api.value(4)/100));
      return {type:'rect',shape:{x:x0,y:y0,width:x1-x0,height:y1-y0},style:{fill:`rgb(${g},${g},${g})`}};
    }});
  p.lines.forEach(l=>series.push({type:'line',xAxisIndex:gi,yAxisIndex:gi,data:l,symbol:'none',silent:true,lineStyle:{color:'#111',width:2,join:'round'},z:4}));
});
const chart=echarts.init(document.getElementById('c'),null,{renderer:'canvas'});
chart.setOption({animation:false,backgroundColor:'#fff',textStyle:{fontFamily:FONT},grid,xAxis,yAxis,series});
</script></body></html>
